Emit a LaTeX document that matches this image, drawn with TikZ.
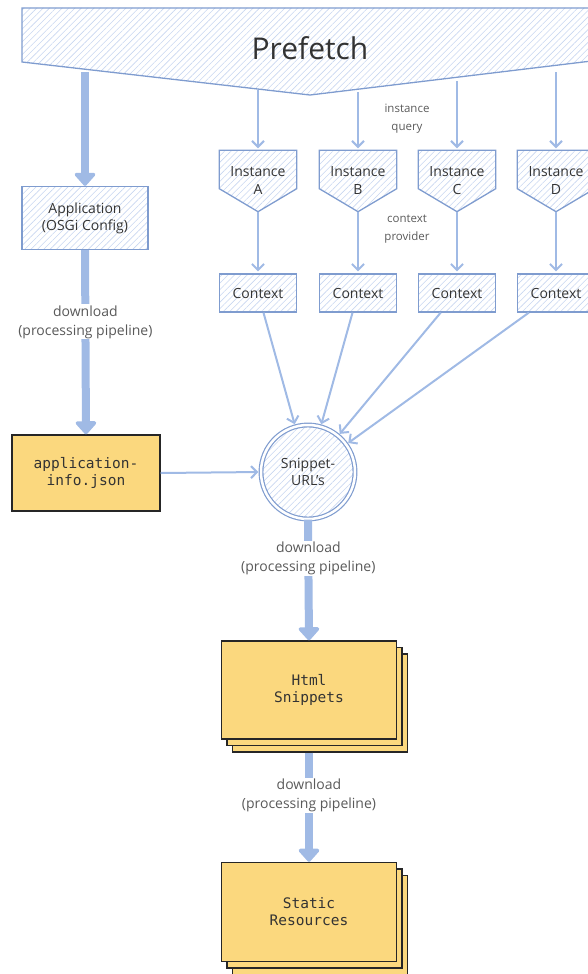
\documentclass[tikz,border=0pt]{standalone}
\usepackage{fontspec}
\setmainfont{Open Sans}
\newfontfamily\codefont{DejaVu Sans Mono}
\usetikzlibrary{arrows.meta,patterns.meta,shadows,backgrounds}

\definecolor{lineblue}{HTML}{A0BAE5}
\definecolor{boxblue}{HTML}{7F9CCF}
\definecolor{hatchblue}{HTML}{C8D6F0}
\definecolor{noteyellow}{HTML}{FBD87E}
\definecolor{inkgray}{HTML}{333333}
\definecolor{labelgray}{HTML}{5A5A5A}

\begin{document}
\begin{tikzpicture}[x=1pt, y=-1pt,
    hatched/.style={draw=boxblue, line width=1.3pt, pattern={Lines[angle=45,distance=4.5pt,line width=0.6pt]}, pattern color=hatchblue},
    sketchbox/.style={hatched, text=inkgray, font=\fontsize{14}{17}\selectfont, align=center, inner sep=0pt},
    instbox/.style={text=inkgray, font=\fontsize{14}{18}\selectfont, align=center, inner sep=0pt, minimum width=77pt, minimum height=61pt},
    notebox/.style={draw=black!85, line width=1.4pt, fill=noteyellow, text=inkgray, font=\codefont\fontsize{14.5}{17}\selectfont, align=center},
    stackbox/.style={notebox, double copy shadow={shadow xshift=5.5pt, shadow yshift=-6.5pt}},
    thinarrow/.style={draw=lineblue, line width=2pt, shorten >=2pt, -{Straight Barb[length=6pt,width=12pt]}},
    thickarrow/.style={draw=lineblue, line width=8pt, -{Triangle[length=14pt,width=24pt,round]}},
    steplabel/.style={fill=white, text=labelgray, font=\fontsize{14}{19}\selectfont, align=center, inner sep=1pt},
    sidelabel/.style={text=labelgray, font=\fontsize{11.5}{18}\selectfont, align=center}]
  \useasboundingbox (0,0) rectangle (588,974);

  % Prefetch
  \draw[hatched] (22,8) -- (600,8) -- (600,60) -- (310,95) -- (22,62) -- cycle;
  \node[text=inkgray, font=\fontsize{30}{30}\selectfont] (pf) at (310,48) {Prefetch};
  \coordinate (pfApp) at (85,72);
  \coordinate (pfA) at (258,90);
  \coordinate (pfB) at (358,92);
  \coordinate (pfC) at (457,81);
  \coordinate (pfD) at (556,72);

  % Instances and contexts
  \foreach \id/\x in {A/258,B/358,C/457,D/556} {
    \node[instbox] (inst\id) at (\x,181) {Instance\\\id};
    \begin{scope}[on background layer]
      \draw[hatched] (inst\id.north west) -- (inst\id.north east) -- ([yshift=23pt]inst\id.south east)
        -- (inst\id.south) -- ([yshift=23pt]inst\id.south west) -- cycle;
    \end{scope}
    \node[sketchbox, minimum width=77pt, minimum height=38pt] (ctx\id) at (\x,293) {Context};
    \draw[thinarrow] (pf\id) -- (inst\id.north);
    \draw[thinarrow] (inst\id.south) -- (ctx\id.north);
  }
  \node[sidelabel] (query) at (407,119) {instance\\query};
  \node[sidelabel] (provider) at (407,229) {context\\provider};

  % Application
  \node[sketchbox, minimum width=126pt, minimum height=63pt] (app) at (85,218) {Application\\(OSGi Config)};
  \node[notebox, minimum width=148pt, minimum height=76pt] (info) at (86,473) {application-\\info.json};
  \draw[thickarrow] (pfApp) -- (app.north);
  \draw[thickarrow] (app.south) -- node[steplabel, pos=0.39] {download\\(processing pipeline)} (info.north);

  % Snippet URLs
  \node[hatched, circle, line width=1.2pt, double=white, double distance=2.5pt, minimum size=94pt,
    inner sep=0pt, text=inkgray, font=\fontsize{14}{17}\selectfont, align=center] (urls) at (308,472) {Snippet-\\URL's};
  \draw[thinarrow] (info.east) -- (urls.west);
  \foreach \id in {A,B,C,D}
    \draw[thinarrow] (ctx\id) -- (urls);

  % Downloads
  \node[stackbox, minimum width=175pt, minimum height=98pt] (html) at (309,690) {Html\\Snippets};
  \node[stackbox, minimum width=175pt, minimum height=99pt] (static) at (309,912) {Static\\Resources};
  \draw[thickarrow] (urls.south) -- node[steplabel, pos=0.32] {download\\(processing pipeline)} (html.north);
  \draw[thickarrow] ([yshift=-13pt]html.south) -- node[steplabel, pos=0.39] {download\\(processing pipeline)} (static.north);
\end{tikzpicture}
\end{document}
